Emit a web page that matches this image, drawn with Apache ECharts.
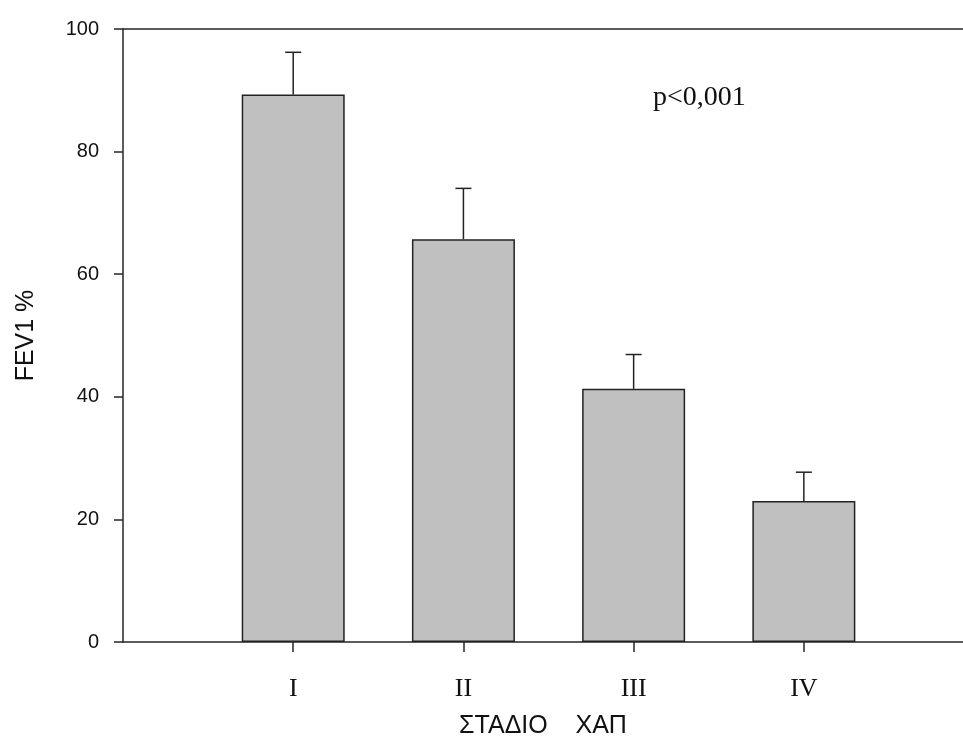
<!DOCTYPE html>
<html>
<head>
<meta charset="utf-8">
<script src="https://cdn.jsdelivr.net/npm/echarts@6/dist/echarts.min.js"></script>
<style>
html,body{margin:0;padding:0;background:#fff;}
#chart{width:963px;height:738px;}
</style>
</head>
<body>
<div id="chart"></div>
<script>
const categories = ['I', 'II', 'III', 'IV'];
const means = [89.3, 65.7, 41.3, 23.0];
const errors = [6.9, 8.3, 5.6, 4.7];
const yTicks = [0, 20, 40, 60, 80, 100];
const annotation = 'p<0,001';
const xTitle = 'ΣΤΑΔΙΟ    ΧΑΠ';
const yTitle = 'FEV1 %';

const positions = categories.map((c, i) => i + 1);
const barData = means.map((m, i) => [positions[i], m]);
const errData = means.map((m, i) => [positions[i], m, m + errors[i]]);

const lineColor = '#262626';
const chart = echarts.init(document.getElementById('chart'));
chart.setOption({
  animation: false,
  backgroundColor: '#fff',
  grid: { left: 123, right: 0, top: 29, bottom: 96, containLabel: false, outerBoundsMode: 'none' },
  xAxis: [{
    type: 'value', min: 0, max: 4.935,
    axisLine: { show: true, onZero: false, lineStyle: { color: lineColor, width: 1.5 } },
    axisTick: { show: true, length: 10, inside: false, customValues: positions, lineStyle: { color: lineColor, width: 1.5 } },
    splitLine: { show: false },
    axisLabel: {
      customValues: positions,
      formatter: v => categories[Math.round(v) - 1] || '',
      fontFamily: '"Liberation Serif", "Times New Roman", serif',
      fontSize: 26, color: '#111', margin: 34
    },
    name: xTitle, nameLocation: 'middle', nameGap: 72,
    nameTextStyle: { fontFamily: '"Liberation Sans", Arial, sans-serif', fontSize: 25, color: '#111' }
  }, {
    type: 'value', min: 0, max: 4.935, position: 'top',
    axisLine: { show: true, onZero: false, lineStyle: { color: lineColor, width: 1.5 } },
    axisTick: { show: false }, axisLabel: { show: false }, splitLine: { show: false }
  }],
  yAxis: {
    type: 'value', min: yTicks[0], max: yTicks[yTicks.length - 1], interval: 20,
    axisLine: { show: true, onZero: false, lineStyle: { color: lineColor, width: 1.5 } },
    axisTick: { show: true, length: 9, lineStyle: { color: lineColor, width: 1.5 } },
    splitLine: { show: false },
    axisLabel: {
      fontFamily: '"Liberation Sans", Arial, sans-serif',
      fontSize: 20, color: '#111', margin: 24
    },
    name: yTitle, nameLocation: 'middle', nameGap: 84, nameRotate: 90,
    nameTextStyle: { fontFamily: '"Liberation Sans", Arial, sans-serif', fontSize: 25, color: '#111' }
  },
  series: [{
    type: 'bar',
    data: barData,
    barWidth: 103,
    itemStyle: { color: '#c0c0c0', borderColor: '#222', borderWidth: 1.5 },
    z: 2
  }, {
    type: 'custom',
    data: errData,
    z: 3,
    renderItem: function (params, api) {
      const x = api.value(0);
      const base = api.coord([x, api.value(1)]);
      const top = api.coord([x, api.value(2)]);
      const half = 8;
      const style = { stroke: '#222', lineWidth: 1.5 };
      return {
        type: 'group',
        children: [
          { type: 'line', shape: { x1: base[0], y1: base[1], x2: top[0], y2: top[1] }, style: style },
          { type: 'line', shape: { x1: top[0] - half, y1: top[1], x2: top[0] + half, y2: top[1] }, style: style }
        ]
      };
    }
  }],
  graphic: [{
    type: 'text', left: 653, top: 84,
    style: {
      text: annotation,
      font: '28px "Liberation Serif", "Times New Roman", serif',
      fill: '#111'
    }
  }]
});
</script>
</body>
</html>
